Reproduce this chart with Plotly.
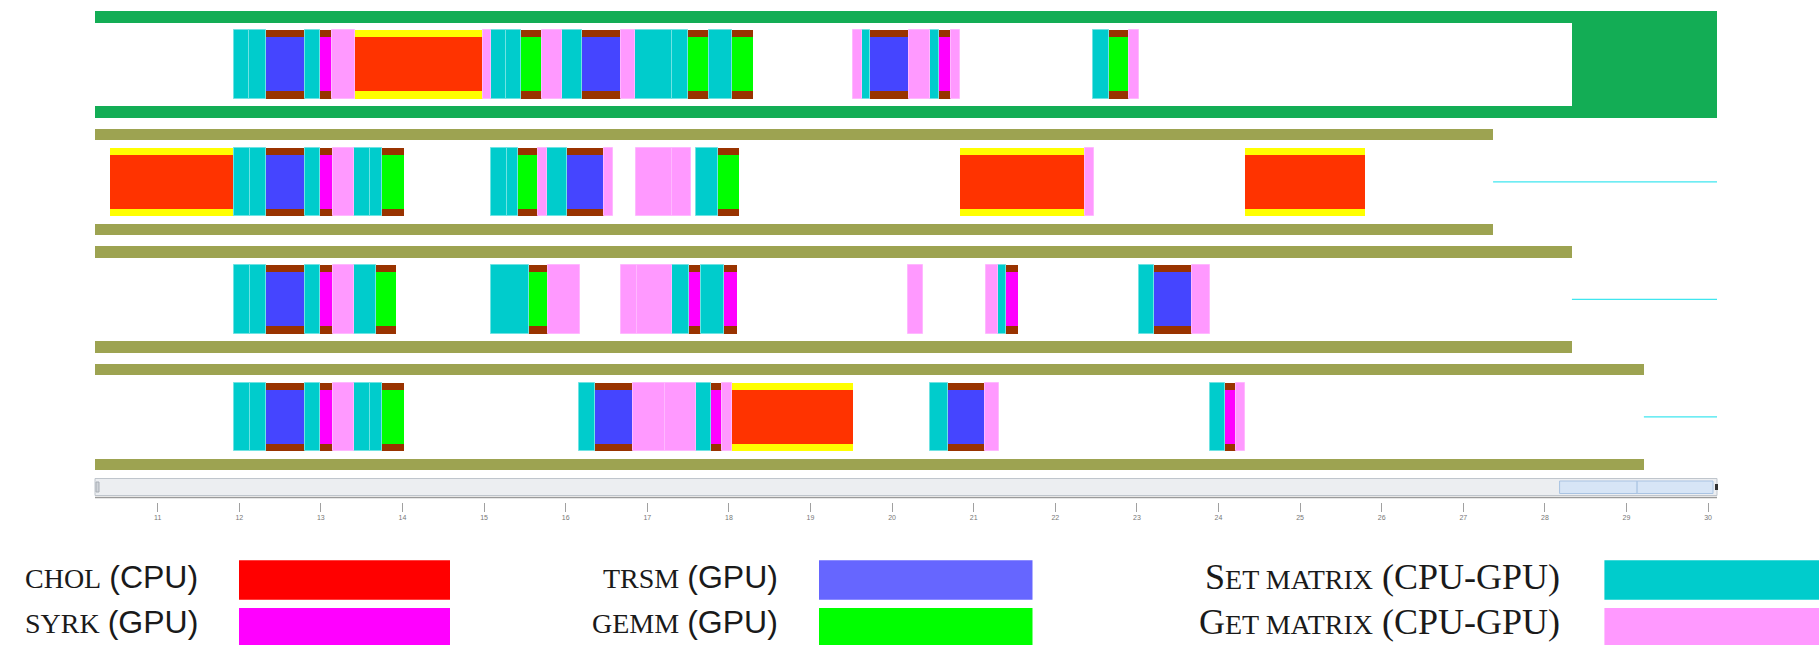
import plotly.graph_objects as go

# ---------------------------------------------------------------------------
# Execution trace of a tiled Cholesky factorisation: one lane per worker.
# Each task is (kind, start, end) on the shared time axis.
# ---------------------------------------------------------------------------
LANE_1 = [
    ("set", 11.930, 12.117), ("set", 12.117, 12.328), ("trsm", 12.328, 12.807),
    ("set", 12.807, 12.995), ("syrk", 12.995, 13.135), ("get", 13.135, 13.420),
    ("chol", 13.420, 14.988), ("get", 14.988, 15.082), ("set", 15.082, 15.269),
    ("set", 15.269, 15.457), ("gemm", 15.457, 15.706), ("get", 15.706, 15.955),
    ("set", 15.955, 16.206), ("trsm", 16.206, 16.675), ("get", 16.675, 16.844),
    ("set", 16.844, 17.299), ("set", 17.299, 17.501), ("gemm", 17.501, 17.761),
    ("set", 17.761, 18.041), ("gemm", 18.041, 18.292),
    ("get", 19.527, 19.627), ("set", 19.627, 19.726), ("trsm", 19.726, 20.202),
    ("get", 20.202, 20.463), ("set", 20.463, 20.578), ("syrk", 20.578, 20.717),
    ("get", 20.717, 20.832),
    ("set", 22.463, 22.653), ("gemm", 22.653, 22.904), ("get", 22.904, 23.029),
]
LANE_2 = [
    ("chol", 10.413, 11.941), ("set", 11.941, 12.130), ("set", 12.130, 12.326),
    ("trsm", 12.326, 12.811), ("set", 12.811, 12.992), ("syrk", 12.992, 13.147),
    ("get", 13.147, 13.410), ("set", 13.410, 13.602), ("set", 13.602, 13.755),
    ("gemm", 13.755, 14.013),
    ("set", 15.086, 15.278), ("set", 15.278, 15.416), ("gemm", 15.416, 15.663),
    ("get", 15.663, 15.777), ("set", 15.777, 16.014), ("trsm", 16.014, 16.473),
    ("get", 16.473, 16.583),
    ("get", 16.856, 17.304), ("get", 17.304, 17.531), ("set", 17.598, 17.872),
    ("gemm", 17.872, 18.130),
    ("chol", 20.838, 22.358), ("get", 22.358, 22.474),
    ("chol", 24.330, 25.800),
]
LANE_3 = [
    ("set", 11.941, 12.130), ("set", 12.130, 12.326), ("trsm", 12.326, 12.811),
    ("set", 12.811, 12.992), ("syrk", 12.992, 13.147), ("get", 13.147, 13.410),
    ("set", 13.410, 13.678), ("gemm", 13.678, 13.926),
    ("set", 15.086, 15.551), ("gemm", 15.551, 15.782), ("get", 15.782, 16.179),
    ("get", 16.680, 16.876), ("get", 16.876, 17.298), ("set", 17.298, 17.510),
    ("syrk", 17.510, 17.659), ("set", 17.659, 17.943), ("syrk", 17.943, 18.098),
    ("get", 20.201, 20.374),
    ("get", 21.149, 21.300), ("set", 21.300, 21.392), ("syrk", 21.392, 21.549),
    ("set", 23.023, 23.208), ("trsm", 23.208, 23.671), ("get", 23.671, 23.892),
]
LANE_4 = [
    ("set", 11.941, 12.130), ("set", 12.130, 12.326), ("trsm", 12.326, 12.811),
    ("set", 12.811, 12.992), ("syrk", 12.992, 13.147), ("get", 13.147, 13.410),
    ("set", 13.410, 13.602), ("set", 13.602, 13.755), ("gemm", 13.755, 14.013),
    ("set", 16.165, 16.361), ("trsm", 16.361, 16.825), ("get", 16.825, 17.211),
    ("get", 17.211, 17.598), ("set", 17.598, 17.779), ("syrk", 17.779, 17.918),
    ("get", 17.918, 18.036), ("chol", 18.036, 19.524),
    ("set", 20.467, 20.682), ("trsm", 20.682, 21.144), ("get", 21.144, 21.306),
    ("set", 23.892, 24.077), ("syrk", 24.077, 24.209), ("get", 24.209, 24.325),
]
LANES = [LANE_1, LANE_2, LANE_3, LANE_4]

# end of the white lane area for each worker
LANE_END = [28.331, 27.365, 28.331, 29.213]
LANE_FRAME = ["#13AD55", "#9DA351", "#9DA351", "#9DA351"]

# time axis
TIME_MIN, TIME_MAX = 10.232, 30.109
TICK_VALUES = list(range(11, 31))
TICK_LABELS = [str(v) for v in TICK_VALUES]

# scroll thumb position on the time axis
THUMB = (28.18, 29.13, 30.06)

# legend
LEGEND_KINDS = ["chol", "trsm", "set", "syrk", "gemm", "get"]
LEGEND_COLORS = ["#FF0000", "#6666FF", "#00CCCC", "#FF00FF", "#00FF00", "#FF99FF"]

# task styling: (edge strip colour or None, body colour, outline)
STYLE = {
    "chol": ("#FFFF00", "#FF3300", None),
    "trsm": ("#993300", "#4545FF", None),
    "gemm": ("#993300", "#00FF00", None),
    "syrk": ("#993300", "#FF00FF", None),
    "set": (None, "#00CCCC", "#6FE3E3"),
    "get": (None, "#FF99FF", "#FFB8FF"),
}

W, H = 1819, 645
ML, MR, MT = 95, 102, 0
PLOT_BOTTOM = 502            # pixel row of the x axis (tick origin)
MB = H - PLOT_BOTTOM
ROW0_PX, ROW_PITCH = 64.4, 117.5

Y_TOP = -ROW0_PX / ROW_PITCH
Y_BOTTOM = (PLOT_BOTTOM - ROW0_PX) / ROW_PITCH

FRAME_W, INNER_W, TASK_W, BODY_W = 0.905, 0.709, 0.582, 0.458


def paper_x(px):
    return (px - ML) / (W - ML - MR)


def paper_y(px):
    return (PLOT_BOTTOM - px) / (PLOT_BOTTOM - MT)


fig = go.Figure()

# lane frames
for i, end in enumerate(LANE_END):
    outer_end = TIME_MAX if i == 0 else end
    fig.add_trace(go.Bar(
        orientation="h", y=[i], base=[TIME_MIN], x=[outer_end - TIME_MIN],
        width=FRAME_W, marker=dict(color=LANE_FRAME[i], line=dict(width=0)),
        hoverinfo="skip", showlegend=False))
    fig.add_trace(go.Bar(
        orientation="h", y=[i], base=[TIME_MIN], x=[end - TIME_MIN],
        width=INNER_W, marker=dict(color="#FFFFFF", line=dict(width=0)),
        hoverinfo="skip", showlegend=False))
    if i > 0:
        fig.add_trace(go.Scatter(
            x=[end, TIME_MAX], y=[i, i], mode="lines",
            line=dict(color="#3FE6EF", width=1.2),
            hoverinfo="skip", showlegend=False))

# tasks, one pair of traces per kind
for kind, (strip, body, outline) in STYLE.items():
    ys, bases, lens = [], [], []
    for lane, tasks in enumerate(LANES):
        for k, t0, t1 in tasks:
            if k == kind:
                ys.append(lane)
                bases.append(t0)
                lens.append(t1 - t0)
    if strip:
        fig.add_trace(go.Bar(
            orientation="h", y=ys, base=bases, x=lens, width=TASK_W,
            marker=dict(color=strip, line=dict(width=0)),
            hoverinfo="skip", showlegend=False))
        fig.add_trace(go.Bar(
            orientation="h", y=ys, base=bases, x=lens, width=BODY_W,
            marker=dict(color=body, line=dict(width=0)),
            name=kind, showlegend=False))
    else:
        fig.add_trace(go.Bar(
            orientation="h", y=ys, base=bases, x=lens, width=TASK_W,
            marker=dict(color=body, line=dict(color=outline, width=1)),
            name=kind, showlegend=False))

shapes = []
# scroll bar under the lanes
shapes.append(dict(type="rect", xref="paper", yref="paper",
                   x0=0, x1=1, y0=paper_y(495.5), y1=paper_y(478.5),
                   fillcolor="#ECEEF1", line=dict(color="#BFC5CC", width=1)))
shapes.append(dict(type="rect", xref="x", yref="paper",
                   x0=THUMB[0], x1=THUMB[1], y0=paper_y(493.5), y1=paper_y(481),
                   fillcolor="#D7E5F6", line=dict(color="#A9C3E2", width=1)))
shapes.append(dict(type="rect", xref="x", yref="paper",
                   x0=THUMB[1], x1=THUMB[2], y0=paper_y(493.5), y1=paper_y(481),
                   fillcolor="#D7E5F6", line=dict(color="#A9C3E2", width=1)))
shapes.append(dict(type="rect", xref="paper", yref="paper",
                   x0=paper_x(1715), x1=paper_x(1718), y0=paper_y(490), y1=paper_y(484),
                   fillcolor="#333333", line=dict(width=0)))
shapes.append(dict(type="rect", xref="paper", yref="paper",
                   x0=paper_x(96), x1=paper_x(99), y0=paper_y(492), y1=paper_y(482),
                   fillcolor="#D0D4D9", line=dict(color="#A8AEB6", width=1)))
# axis rule
shapes.append(dict(type="line", xref="paper", yref="paper",
                   x0=0, x1=1, y0=paper_y(497.5), y1=paper_y(497.5),
                   line=dict(color="#9A9A9A", width=1.5)))

# legend swatches and labels
SC = "font-family:'Liberation Serif';font-size:28px"
BIG = "font-family:'Liberation Serif';font-size:36px"
SANS = "font-family:'Liberation Sans';font-size:32px"
legend_text = {
    "chol": f"<span style=\"{SC}\">CHOL</span> <span style=\"{SANS}\">(CPU)</span>",
    "trsm": f"<span style=\"{SC}\">TRSM</span> <span style=\"{SANS}\">(GPU)</span>",
    "set": f"<span style=\"{BIG}\">S</span><span style=\"{SC}\">ET MATRIX</span>"
           f"<span style=\"{BIG}\"> (CPU-GPU)</span>",
    "syrk": f"<span style=\"{SC}\">SYRK</span> <span style=\"{SANS}\">(GPU)</span>",
    "gemm": f"<span style=\"{SC}\">GEMM</span> <span style=\"{SANS}\">(GPU)</span>",
    "get": f"<span style=\"{BIG}\">G</span><span style=\"{SC}\">ET MATRIX</span>"
           f"<span style=\"{BIG}\"> (CPU-GPU)</span>",
}
col_text_right = [199.5, 780, 1561.5]
col_box = [(239, 450), (819, 1032.5), (1604.4, 1822)]
row_box = [(560.3, 599.8), (607.9, 646)]
row_text = [577, 622]

annotations = []
for idx, (kind, color) in enumerate(zip(LEGEND_KINDS, LEGEND_COLORS)):
    r, c = divmod(idx, 3)
    shapes.append(dict(type="rect", xref="paper", yref="paper",
                       x0=paper_x(col_box[c][0]), x1=paper_x(col_box[c][1]),
                       y0=paper_y(row_box[r][1]), y1=paper_y(row_box[r][0]),
                       fillcolor=color, line=dict(width=0)))
    annotations.append(dict(xref="paper", yref="paper",
                            x=paper_x(col_text_right[c]), y=paper_y(row_text[r]),
                            xanchor="right", yanchor="middle", showarrow=False,
                            text=legend_text[kind],
                            font=dict(family="Liberation Serif", size=32, color="#1a1a1a")))

fig.update_layout(
    width=W, height=H,
    margin=dict(l=ML, r=MR, t=MT, b=MB, pad=0),
    paper_bgcolor="#FFFFFF", plot_bgcolor="#FFFFFF",
    barmode="overlay", bargap=0,
    shapes=shapes, annotations=annotations,
    xaxis=dict(range=[TIME_MIN, TIME_MAX], tickvals=TICK_VALUES, ticktext=TICK_LABELS,
               ticks="outside", ticklen=9, tickwidth=1, tickcolor="#A0A0A0",
               tickfont=dict(family="Liberation Sans", size=7, color="#777777"),
               showgrid=False, zeroline=False, showline=False, fixedrange=True),
    yaxis=dict(range=[Y_BOTTOM, Y_TOP], visible=False, showgrid=False,
               zeroline=False, fixedrange=True),
)

fig.write_html("out.html")
